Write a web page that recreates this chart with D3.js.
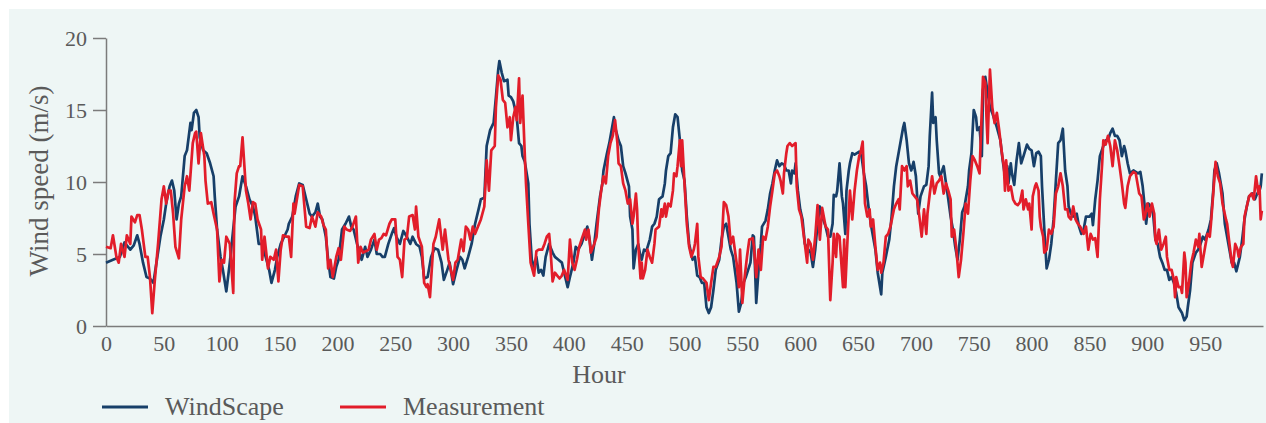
<!DOCTYPE html>
<html>
<head>
<meta charset="utf-8">
<script src="https://cdn.jsdelivr.net/npm/d3@7"></script>
<style>
  body { margin: 0; background: #fff; }
  svg { display: block; }
</style>
</head>
<body>
<svg width="1266" height="423"></svg>
<script>
// hourly wind speed (m/s) as [hour, value]
const windscape = [
  [0,4.4],[6,4.6],[12,4.8],[16,5.8],[21,5.3],[24,5.6],[27,6.3],[29,5.7],[32,4.4],[35,3.4],[38,3.3],[41,3.0],[44,4.6],[47,6.2],[50,7.4],[52,8.5],[55,9.7],[57,10.1],[59,9.4],[61,7.4],[63,8.5],[65,9.0],[68,11.8],[70,12.2],[73,14.1],[74,13.6],[76,14.8],[78,15.0],[80,14.5],[81,13.1],[84,12.2],[87,12.0],[90,11.3],[93,10.4],[94,9.0],[96,6.7],[99,4.8],[101,3.9],[104,2.4],
  [107,4.4],[112,8.3],[115,9.0],[118,10.4],[121,9.7],[124,8.8],[127,8.3],[129,7.6],[132,5.7],[135,5.7],[138,4.8],[141,3.9],[143,3.0],[146,3.9],[148,4.8],[151,5.7],[154,6.2],[157,6.7],[158,7.1],[161,7.6],[164,9.0],[167,9.9],[170,9.8],[173,8.8],[176,7.8],[178,7.6],[181,7.9],[183,8.5],[185,7.6],[187,7.4],[190,6.2],[192,4.6],[194,3.4],[197,3.3],[199,4.1],
  [201,4.6],[204,6.7],[207,7.1],[210,7.6],[212,6.9],[214,6.7],[217,5.7],[221,4.6],[224,5.5],[226,4.8],[229,5.3],[232,6.0],[234,5.0],[237,5.0],[239,4.8],[241,4.8],[244,5.7],[247,6.4],[249,6.8],[251,6.2],[254,5.7],[257,6.6],[260,6.2],[263,5.7],[265,6.2],[268,5.7],[271,5.5],[273,4.8],[275,3.3],[278,3.4],[281,4.8],[284,5.4],[287,5.3],[290,4.4],[292,3.2],[295,3.9],[297,4.4],
  [300,2.9],[303,3.9],[306,4.8],[308,4.6],[310,4.0],[313,4.8],[316,5.7],[319,7.1],[322,8.1],[324,8.8],[327,8.9],[329,12.5],[332,13.6],[335,14.1],[337,15.9],[339,17.8],[340,18.4],[342,17.6],[344,17.0],[347,17.1],[348,16.0],[350,15.9],[352,15.6],[354,14.9],[355,14.5],[357,12.7],[359,12.5],[360,11.8],[362,11.4],[365,9.9],[366,7.1],[368,4.6],[370,4.1],[372,4.8],[374,3.7],[376,3.9],[378,3.5],[380,4.8],[383,5.7],[386,5.1],[388,4.8],[391,4.6],[394,4.4],[396,3.7],[399,2.7],
  [401,3.4],[404,4.4],[406,5.5],[408,5.3],[411,5.7],[413,6.2],[416,6.9],[418,6.0],[420,4.6],[422,5.7],[424,7.1],[427,9.0],[429,9.9],[430,10.8],[433,12.0],[435,12.7],[437,13.6],[439,14.5],[440,13.8],[442,13.2],[443,12.9],[445,12.5],[447,11.1],[449,10.6],[452,9.7],[453,7.6],[455,6.7],[456,4.0],[458,5.3],[460,5.7],[462,4.8],[463,4.6],[465,5.3],[467,5.2],[470,6.0],[472,6.9],[474,7.1],[476,7.6],[478,8.8],[481,9.0],[483,9.9],[484,10.8],[486,11.8],[488,12.0],[490,13.8],[492,14.7],[494,14.5],[496,12.9],[498,10.8],
  [500,10.1],[502,7.6],[504,5.7],[507,4.6],[509,4.8],[511,3.5],[513,3.4],[515,3.0],[517,3.0],[519,1.3],[521,0.9],[523,1.3],[525,2.5],[527,3.9],[530,4.6],[532,6.0],[534,6.9],[536,7.1],[538,6.2],[540,5.3],[542,4.8],[545,3.0],[547,1.0],[549,1.6],[551,3.0],[553,3.4],[555,3.9],[557,4.4],[559,6.3],[560,6.2],[562,1.6],[564,3.9],[566,5.7],[567,6.9],[570,7.3],[572,8.1],[574,9.2],[576,9.9],[578,10.8],[580,11.5],[582,11.1],[584,11.3],[586,11.2],[588,10.8],[590,10.8],[592,9.9],[593,10.8],[595,10.6],[596,11.3],[598,9.4],
  [600,8.1],[602,7.4],[604,5.7],[607,5.3],[609,5.1],[611,4.1],[613,5.3],[615,7.1],[617,8.3],[619,7.6],[622,6.9],[624,6.2],[626,6.2],[628,7.1],[629,9.1],[631,9.0],[632,9.4],[634,11.3],[636,9.0],[637,8.5],[639,6.4],[640,9.4],[642,10.8],[643,11.3],[645,12.0],[647,11.9],[649,12.0],[651,12.1],[653,11.8],[655,10.6],[657,9.7],[659,8.3],[661,7.1],[663,6.2],[665,5.3],[667,3.7],[670,2.2],[671,3.7],[674,4.8],[677,6.0],[679,7.6],[681,9.7],[683,11.1],[685,12.0],[687,12.9],[689,13.8],[690,14.1],[692,12.9],[694,11.3],[696,10.8],[698,11.4],
  [700,10.4],[702,7.8],[704,9.0],[707,9.7],[709,9.8],[711,11.1],[712,13.2],[714,16.2],[715,14.1],[717,14.5],[718,12.9],[720,10.6],[721,10.4],[724,11.1],[726,9.9],[728,8.8],[730,7.6],[732,6.7],[734,5.5],[736,4.6],[738,6.0],[740,7.9],[742,8.3],[745,9.7],[746,10.8],[748,12.0],[750,15.0],[752,14.5],[753,13.6],[755,13.8],[757,11.8],[758,16.4],[760,17.3],[762,16.2],[764,15.2],[766,14.8],[768,14.3],[770,13.8],[773,12.9],[775,11.5],[777,10.4],[779,11.1],[780,9.9],[782,11.3],[783,10.6],[785,9.8],[787,11.5],[789,12.7],[791,11.3],[793,11.8],[796,12.6],[798,12.3],
  [800,12.2],[802,11.1],[804,12.0],[806,12.1],[808,11.8],[809,9.7],[811,6.7],[813,4.0],[815,4.6],[817,5.7],[819,7.4],[821,10.1],[823,12.7],[825,12.9],[827,13.7],[829,10.8],[831,9.7],[832,8.3],[834,7.8],[836,7.6],[839,7.8],[841,6.9],[843,6.4],[845,6.7],[847,7.6],[850,7.6],[852,7.8],[853,7.0],[855,8.8],[857,10.1],[859,11.8],[862,12.5],[864,12.9],[866,12.9],[868,13.4],[870,13.7],[872,13.2],[874,13.2],[876,12.9],[878,11.8],[880,12.5],[881,12.2],[883,11.3],[885,10.6],[888,10.8],[890,10.7],[892,10.6],[894,10.7],[896,9.7],[898,8.1],
  [899,7.1],[901,8.5],[903,8.3],[905,7.8],[907,6.0],[909,5.7],[911,4.8],[913,4.4],[915,3.9],[917,3.9],[919,3.2],[921,3.4],[923,3.0],[925,2.3],[927,1.3],[930,0.9],[932,0.4],[934,0.65],[935,1.3],[937,2.5],[939,4.4],[942,5.1],[944,5.3],[946,5.7],[948,6.2],[950,6.0],[953,6.7],[955,7.4],[957,9.4],[958,10.8],[960,11.3],[962,10.6],[965,9.2],[967,7.1],[969,6.2],[971,5.3],[973,4.4],[975,4.4],[977,3.8],[980,4.8],[982,6.0],[984,7.4],[986,8.3],[988,9.0],[991,9.2],[993,8.8],[995,9.2],[997,9.4],[998,9.7],[999,10.6]
];

const measurement = [
  [0,5.5],[4,5.4],[6,6.3],[9,4.8],[11,4.4],[13,5.7],[16,4.8],[18,6.3],[21,5.7],[22,7.6],[25,7.2],[27,7.7],[29,7.7],[31,6.7],[34,4.8],[36,4.8],[38,3.4],[40,0.9],[42,3.0],[45,5.7],[48,8.8],[50,9.7],[52,8.5],[54,9.4],[56,9.4],[58,7.8],[60,5.5],[63,4.7],[65,7.4],[68,9.7],[70,10.4],[72,9.4],[75,12.7],[77,13.4],[78,13.5],[80,11.3],[82,13.4],[85,11.8],[86,10.1],[88,8.5],[91,8.6],[93,7.8],[96,6.7],[98,3.1],
  [100,4.6],[102,4.4],[104,6.2],[107,5.7],[110,2.3],[111,8.5],[113,10.6],[115,11.1],[116,11.1],[118,13.1],[121,9.4],[123,8.5],[125,7.4],[127,8.6],[129,8.5],[131,7.4],[134,6.7],[135,4.6],[137,6.2],[140,4.0],[142,4.8],[145,4.6],[147,5.3],[149,3.1],[151,5.3],[153,6.3],[156,6.2],[158,6.2],[160,4.8],[162,8.5],[163,7.8],[165,8.8],[167,9.8],[170,9.7],[173,6.9],[176,6.8],[178,7.6],[181,6.9],[183,7.9],[186,7.6],[188,7.0],[190,6.7],[192,4.0],[194,4.6],[196,3.4],[199,4.8],
  [201,5.4],[203,4.6],[206,6.9],[208,6.7],[211,6.6],[213,6.9],[216,7.6],[218,4.4],[220,5.5],[222,5.1],[225,5.2],[227,5.3],[229,6.0],[232,6.4],[234,5.3],[236,6.0],[238,6.1],[240,6.4],[242,6.3],[245,7.1],[247,7.4],[250,7.4],[252,4.8],[254,4.6],[256,3.4],[258,6.0],[260,6.1],[262,7.6],[265,7.7],[267,6.7],[268,8.3],[270,6.2],[273,5.5],[275,3.0],[277,2.7],[278,2.9],[280,2.0],[283,5.7],[285,6.2],[288,7.4],[291,5.3],[293,6.7],[296,4.6],[298,3.9],
  [300,3.2],[302,4.4],[304,4.6],[307,6.0],[309,5.2],[311,6.9],[313,6.7],[315,6.0],[317,6.9],[319,6.4],[321,6.8],[324,7.4],[327,8.3],[329,11.5],[331,9.4],[333,12.2],[336,12.5],[337,15.2],[339,17.4],[341,17.1],[343,15.7],[345,15.5],[347,13.8],[349,14.5],[350,12.9],[352,14.5],[354,15.2],[355,14.3],[357,17.2],[358,14.1],[360,16.0],[362,11.8],[363,9.9],[365,7.1],[367,4.4],[370,3.5],[372,5.2],[374,5.3],[377,5.3],[379,5.7],[381,6.2],[383,6.4],[384,5.5],[386,3.1],[388,3.7],[390,3.5],[392,3.3],[394,3.5],[396,3.9],[399,3.2],
  [401,6.0],[403,4.4],[405,3.9],[407,4.6],[409,5.5],[411,6.0],[414,6.7],[415,6.0],[417,6.7],[419,5.1],[422,5.7],[424,6.2],[426,8.1],[428,9.4],[430,10.4],[432,9.9],[434,11.8],[436,12.7],[438,13.2],[440,14.3],[442,12.7],[443,11.3],[445,11.1],[447,9.9],[449,9.4],[451,8.5],[453,8.8],[455,7.1],[456,7.6],[458,9.2],[459,8.1],[460,5.7],[462,3.3],[463,4.4],[464,3.3],[466,3.9],[468,5.3],[470,4.8],[472,4.4],[474,5.7],[475,6.7],[478,6.9],[480,8.1],[481,7.6],[483,8.5],[484,7.6],[486,8.5],[488,8.3],[490,9.4],[491,10.6],[493,10.4],[494,11.1],[496,12.9],[497,11.1],[498,12.9],
  [500,9.9],[502,7.1],[504,5.5],[506,4.8],[508,5.3],[509,5.7],[511,7.1],[512,4.8],[514,3.4],[516,3.3],[519,3.0],[521,1.8],[523,3.0],[525,4.1],[527,4.1],[530,4.8],[532,5.5],[534,8.6],[536,8.4],[538,7.6],[540,5.7],[542,6.2],[545,4.4],[547,2.7],[548,5.3],[550,1.6],[552,3.4],[554,4.8],[556,6.0],[559,6.1],[560,5.5],[562,3.4],[564,5.3],[566,3.9],[568,6.2],[570,6.0],[572,6.9],[574,8.3],[576,9.4],[578,10.6],[580,10.8],[582,10.4],[583,10.1],[585,9.2],[586,10.6],[588,12.0],[589,12.5],[591,12.7],[593,12.5],[596,12.7],[597,9.7],[599,8.1],
  [601,7.6],[604,5.7],[606,4.4],[607,6.0],[609,5.7],[611,4.6],[613,6.2],[615,8.4],[617,6.0],[619,8.2],[622,6.9],[624,6.7],[626,1.8],[628,4.4],[629,6.4],[631,4.8],[632,6.4],[634,6.2],[637,2.7],[638,6.0],[639,2.7],[641,6.2],[643,9.4],[645,7.4],[647,9.4],[649,10.8],[651,11.8],[652,12.0],[654,12.8],[656,8.5],[658,7.6],[660,8.1],[661,6.9],[663,7.4],[665,5.5],[667,3.9],[669,4.4],[670,3.7],[672,4.4],[674,6.2],[676,6.4],[678,6.9],[681,8.1],[683,8.5],[685,8.8],[686,8.1],[688,11.1],[690,10.8],[692,11.1],[693,9.7],[695,10.1],[697,9.2],[699,9.0],
  [701,8.8],[703,7.6],[705,6.2],[707,8.1],[709,6.4],[710,7.8],[712,9.2],[714,10.4],[716,9.2],[718,9.9],[720,10.1],[722,10.4],[724,9.2],[726,9.9],[728,9.4],[730,8.8],[731,6.2],[733,6.7],[735,5.3],[737,3.4],[739,4.6],[741,6.4],[743,8.5],[745,7.8],[747,10.1],[749,11.8],[751,11.5],[753,11.1],[755,10.6],[758,17.3],[760,16.9],[761,14.5],[762,12.7],[764,17.8],[766,15.2],[768,14.1],[770,14.8],[772,13.6],[774,12.2],[776,11.1],[777,9.4],[778,11.5],[780,9.4],[782,9.7],[784,8.8],[786,8.5],[788,8.4],[790,8.6],[792,9.4],[793,8.1],[795,8.8],[797,8.1],[798,8.5],
  [800,6.7],[801,9.0],[803,9.7],[804,9.9],[806,9.4],[807,7.6],[808,6.9],[810,6.2],[811,5.1],[813,5.3],[815,6.7],[817,6.4],[819,6.9],[821,9.2],[823,9.7],[825,10.6],[827,9.7],[829,8.1],[831,8.1],[832,7.6],[834,7.4],[836,8.3],[838,7.4],[840,7.1],[842,6.9],[845,6.4],[847,6.9],[849,5.3],[851,6.4],[853,6.0],[855,6.1],[857,4.8],[859,8.8],[861,11.3],[862,12.9],[864,12.6],[866,13.2],[868,12.5],[870,11.1],[872,12.9],[874,12.2],[876,11.1],[878,9.9],[880,8.5],[881,8.2],[883,9.7],[885,10.4],[888,10.7],[890,10.6],[893,9.2],[895,9.0],[897,7.4],[898,7.6],
  [900,8.5],[902,7.6],[904,8.5],[906,7.8],[907,6.0],[908,5.7],[910,6.7],[912,5.3],[914,5.7],[916,6.2],[917,4.8],[919,3.9],[921,3.9],[923,3.2],[924,2.0],[925,3.4],[927,2.7],[929,2.7],[930,2.3],[932,5.1],[933,4.4],[934,2.0],[936,3.0],[938,4.4],[940,5.1],[942,6.0],[944,5.5],[945,6.4],[947,4.1],[950,5.5],[952,6.4],[954,6.2],[955,7.1],[957,9.2],[959,11.4],[961,10.4],[963,9.9],[965,8.5],[968,7.4],[969,7.1],[971,5.7],[973,4.4],[974,4.1],[976,5.7],[978,5.3],[979,4.8],[981,5.5],[983,5.7],[984,7.6],[986,8.3],[988,9.0],[990,9.2],[992,8.8],[994,10.4],[996,9.2],[997,9.7],[998,7.4],[999,8.0]
];

const xTicks = [0, 50, 100, 150, 200, 250, 300, 350, 400, 450, 500, 550, 600, 650, 700, 750, 800, 850, 900, 950];
const yTicks = [0, 5, 10, 15, 20];
const seriesNames = ['WindScape', 'Measurement'];

const blue = '#173f69';
const red = '#e21d2a';
const axisGrey = '#7b7b7b';
const textGrey = '#5a5a5a';
const font = '"Liberation Serif", "Times New Roman", serif';

const svg = d3.select('svg');

svg.append('rect')
    .attr('x', 9).attr('y', 9)
    .attr('width', 1257).attr('height', 414)
    .attr('fill', '#eef6f5');

const x = d3.scaleLinear().domain([0, 1000]).range([106, 1263]);
const y = d3.scaleLinear().domain([0, 20]).range([326, 38]);

// axes
const yAxis = svg.append('g')
    .attr('transform', 'translate(106,0)')
    .call(d3.axisLeft(y).tickValues(yTicks).tickSize(13).tickSizeOuter(0).tickPadding(6));

const xAxis = svg.append('g')
    .attr('transform', 'translate(0,326)')
    .call(d3.axisBottom(x).tickValues(xTicks).tickSize(0).tickSizeOuter(0).tickPadding(9));

[xAxis, yAxis].forEach(a => {
    a.selectAll('path, line').attr('stroke', axisGrey).attr('stroke-width', 1.5);
    a.selectAll('text')
        .attr('fill', textGrey)
        .style('font-family', font)
        .style('font-size', '22px');
});

// series
const line = d3.line()
    .x(d => x(d[0]))
    .y(d => y(d[1]));

svg.append('path')
    .datum(windscape)
    .attr('d', line)
    .attr('fill', 'none')
    .attr('stroke', blue)
    .attr('stroke-width', 2.7)
    .attr('stroke-linejoin', 'round');

svg.append('path')
    .datum(measurement)
    .attr('d', line)
    .attr('fill', 'none')
    .attr('stroke', red)
    .attr('stroke-width', 2.7)
    .attr('stroke-linejoin', 'round');

// axis titles
svg.append('text')
    .attr('transform', 'translate(48,181) rotate(-90)')
    .attr('text-anchor', 'middle')
    .attr('fill', textGrey)
    .style('font-family', font)
    .style('font-size', '27px')
    .text('Wind speed (m/s)');

svg.append('text')
    .attr('x', 599).attr('y', 383)
    .attr('text-anchor', 'middle')
    .attr('fill', textGrey)
    .style('font-family', font)
    .style('font-size', '26px')
    .text('Hour');

// legend
const legend = svg.append('g');
const legendX = [102, 340];
const legendColors = [blue, red];

seriesNames.forEach((name, i) => {
    legend.append('line')
        .attr('x1', legendX[i]).attr('x2', legendX[i] + 46)
        .attr('y1', 407).attr('y2', 407)
        .attr('stroke', legendColors[i])
        .attr('stroke-width', 2.8);
    legend.append('text')
        .attr('x', legendX[i] + 63).attr('y', 415)
        .attr('fill', textGrey)
        .style('font-family', font)
        .style('font-size', '26px')
        .text(name);
});
</script>
</body>
</html>
